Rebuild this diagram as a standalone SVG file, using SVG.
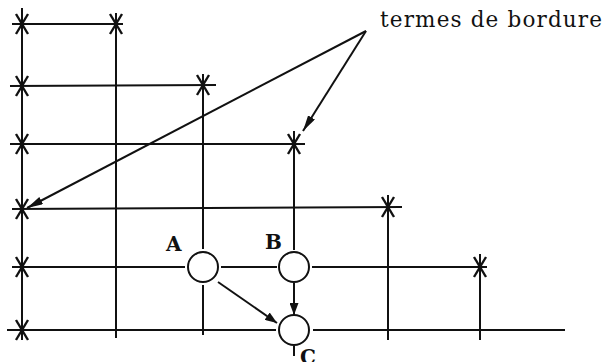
<svg xmlns="http://www.w3.org/2000/svg" width="603" height="362" viewBox="0 0 603 362">
<style>
.ln{stroke:#111;stroke-width:2;fill:none;stroke-linecap:butt}
.st{stroke:#111;stroke-width:2.4;fill:none}
.nd{stroke:#111;stroke-width:2;fill:#fff}
.tx{font-family:"DejaVu Serif","Liberation Serif",serif;fill:#111}
</style>
<defs>
<g id="star" class="st">
<line x1="-6" y1="-10" x2="6" y2="10"/>
<line x1="6" y1="-10" x2="-6" y2="10"/>
</g>
<marker id="ah" viewBox="0 0 16 8" refX="16" refY="4" markerWidth="16" markerHeight="8" markerUnits="userSpaceOnUse" orient="auto">
<path d="M0,0 L16,4 L0,8 Z" fill="#111"/>
</marker>
<marker id="ah2" viewBox="0 0 12 9" refX="12" refY="4.5" markerWidth="12" markerHeight="9" markerUnits="userSpaceOnUse" orient="auto">
<path d="M0,0 L12,4.5 L0,9 Z" fill="#111"/>
</marker>
</defs>
<g id="grid" class="ln">
<line x1="22" y1="8" x2="22" y2="340"/>
<line x1="116" y1="13" x2="116" y2="338"/>
<line x1="203" y1="74" x2="203" y2="249"/>
<line x1="203" y1="285" x2="203" y2="335"/>
<line x1="294" y1="131" x2="294" y2="250"/>
<line x1="294" y1="346" x2="294" y2="356"/>
<line x1="388" y1="195" x2="388" y2="340"/>
<line x1="480" y1="254" x2="480" y2="340"/>
<line x1="12" y1="24" x2="123" y2="24"/>
<line x1="10" y1="86" x2="216" y2="85"/>
<line x1="10" y1="144" x2="305" y2="144"/>
<line x1="12" y1="209" x2="402" y2="207"/>
<line x1="12" y1="267" x2="185" y2="267"/>
<line x1="221" y1="267" x2="277" y2="267"/>
<line x1="312" y1="267" x2="487" y2="267"/>
<line x1="7" y1="330" x2="276" y2="330"/>
<line x1="313" y1="330" x2="565" y2="330"/>
</g>
<g id="stars">
<use href="#star" x="22" y="24"/>
<use href="#star" x="116" y="24"/>
<use href="#star" x="22" y="86"/>
<use href="#star" x="203" y="85"/>
<use href="#star" x="22" y="144"/>
<use href="#star" x="294" y="144"/>
<use href="#star" x="22" y="209"/>
<use href="#star" x="388" y="207"/>
<use href="#star" x="22" y="267"/>
<use href="#star" x="480" y="267"/>
<use href="#star" x="22" y="330"/>
</g>
<g id="A"><circle class="nd" cx="203" cy="267" r="15"/><text class="tx" x="166" y="251" font-size="20" font-weight="bold">A</text></g>
<g id="B"><circle class="nd" cx="294" cy="267" r="15"/><text class="tx" x="265" y="249" font-size="20" font-weight="bold">B</text></g>
<g id="C"><circle class="nd" cx="294" cy="330" r="15"/><text class="tx" x="300" y="364" font-size="20" font-weight="bold">C</text></g>
<g id="label"><text class="tx" x="380" y="27" font-size="21.5" textLength="222" lengthAdjust="spacing">termes de bordure</text></g>
<g id="connectors" class="ln">
<line x1="218" y1="282" x2="277" y2="323" marker-end="url(#ah2)"/>
<line x1="294" y1="283" x2="294" y2="315" marker-end="url(#ah2)"/>
<line x1="366" y1="31" x2="27" y2="208" marker-end="url(#ah)"/>
<line x1="366" y1="31" x2="303" y2="131" marker-end="url(#ah)"/>
</g>
</svg>
